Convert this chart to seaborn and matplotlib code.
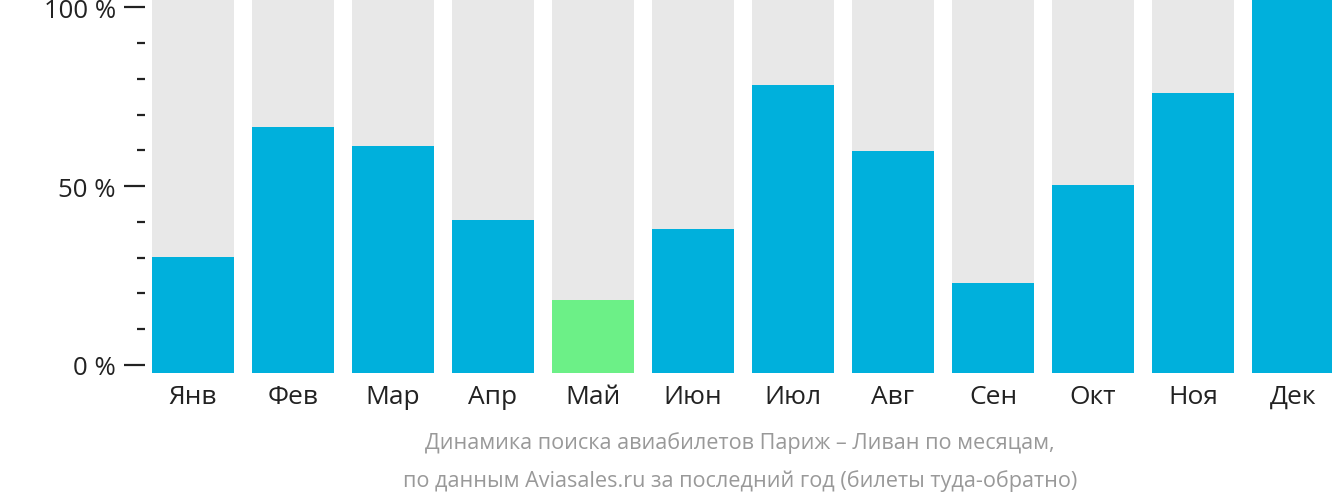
import matplotlib
matplotlib.use("Agg")
import matplotlib.pyplot as plt
import seaborn as sns
import pandas as pd
from matplotlib.ticker import FixedLocator

months = ["Янв", "Фев", "Мар", "Апр", "Май", "Июн", "Июл", "Авг", "Сен", "Окт", "Ноя", "Дек"]
values = [30.3, 66.4, 61.1, 40.6, 18.2, 38.1, 78.4, 59.9, 23.0, 50.4, 75.9, 102.3]
highlight = "Май"
major_ticks = [0, 50, 100]
tick_labels = ["0 %", "50 %", "100 %"]
caption = ["Динамика поиска авиабилетов Париж – Ливан по месяцам,",
           "по данным Aviasales.ru за последний год (билеты туда-обратно)"]

BLUE = "#00b0dc"
GREEN = "#6cf087"
GRAY = "#e8e8e8"
YMIN, YMAX = -2.24, 102.3

sns.set_theme(style="white")
plt.rcParams["font.family"] = ["Open Sans", "DejaVu Sans"]

df = pd.DataFrame({"month": months, "value": values})
df["h"] = df["value"] - YMIN
df["bg"] = YMAX - YMIN
palette = {m: (GREEN if m == highlight else BLUE) for m in months}

fig = plt.figure(figsize=(13.32, 5.02), dpi=100)
ax = fig.add_axes([145 / 1332, (502 - 374) / 502, 1 - 145 / 1332, 374 / 502])

sns.barplot(data=df, x="month", y="bg", order=months, color=GRAY, width=0.82,
            bottom=YMIN, ax=ax, saturation=1, linewidth=0)
sns.barplot(data=df, x="month", y="h", order=months, hue="month", palette=palette,
            legend=False, width=0.82, bottom=YMIN, ax=ax, saturation=1, linewidth=0)

ax.set_xlim(-0.48, 11.39)
ax.set_ylim(YMIN, YMAX)
for s in ax.spines.values():
    s.set_visible(False)
ax.set_xlabel("")
ax.set_ylabel("")
ax.yaxis.set_major_locator(FixedLocator(major_ticks))
ax.set_yticklabels(tick_labels)
ax.yaxis.set_minor_locator(FixedLocator([v for v in range(0, 101, 10) if v not in major_ticks]))
ax.tick_params(axis="y", which="major", length=15, width=1.6, color="#222222",
               labelsize=18.5, labelcolor="#222222", pad=6, left=True)
ax.tick_params(axis="y", which="minor", length=6, width=1.6, color="#222222", left=True)
ax.tick_params(axis="x", length=0, labelsize=19, labelcolor="#222222", pad=8)

cx = 740 / 1332
fig.text(cx, 1 - 443 / 502, caption[0], ha="center", va="center",
         fontsize=15.6, color="#999999")
fig.text(cx, 1 - 481 / 502, caption[1], ha="center", va="center",
         fontsize=15.6, color="#999999")

fig.savefig("out.png", dpi=100)
